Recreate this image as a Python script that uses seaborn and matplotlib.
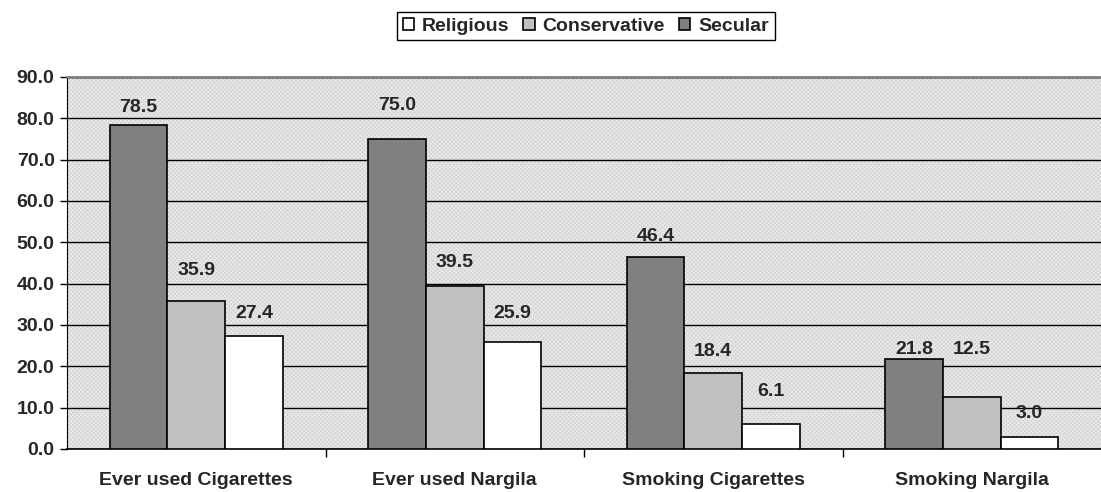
import pandas as pd
import matplotlib.pyplot as plt
import seaborn as sns
from matplotlib.patches import Rectangle

# Data
categories = ["Ever used Cigarettes", "Ever used Nargila", "Smoking Cigarettes", "Smoking Nargila"]
secular = [78.5, 75.0, 46.4, 21.8]
conservative = [35.9, 39.5, 18.4, 12.5]
religious = [27.4, 25.9, 6.1, 3.0]

# label heights (data units), placed by hand in the original
secular_lab = [82.7, 83.2, 51.5, 24.0]
conservative_lab = [43.3, 45.0, 23.5, 24.0]
religious_lab = [32.9, 32.9, 13.8, 8.5]

groups = ["Secular", "Conservative", "Religious"]
colors = {"Secular": "#808080", "Conservative": "#c0c0c0", "Religious": "#ffffff"}

rows = []
for g, vals in zip(groups, [secular, conservative, religious]):
    for c, v in zip(categories, vals):
        rows.append({"cat": c, "group": g, "value": v})
df = pd.DataFrame(rows)

sns.set_style("white")
plt.rcParams['font.family'] = ['Liberation Sans', 'DejaVu Sans']
plt.rcParams['font.weight'] = 'bold'
plt.rcParams['hatch.linewidth'] = 0.8

fig = plt.figure(figsize=(11.01, 4.92), dpi=100)
ax = fig.add_axes([0.0609, 0.0874, 0.9391, 0.7561])

# hatched grey plot background
ax.add_patch(Rectangle((0, 0), 1, 1, transform=ax.transAxes, facecolor="#cfcfcf",
                       edgecolor="#e8e8e8", hatch="xxxxxxxx", linewidth=0, zorder=0))

sns.barplot(data=df, x="cat", y="value", hue="group", hue_order=groups,
            palette=colors, width=0.67, edgecolor="black", linewidth=1.2,
            saturation=1, ax=ax, zorder=3)

ax.set_ylim(0, 90)
ax.set_xlim(-0.5, 3.5)
ax.set_yticks(range(0, 91, 10))
ax.set_yticklabels([f"{t:.1f}" for t in range(0, 91, 10)], fontsize=14, fontweight='bold')
ax.yaxis.grid(True, color="black", linewidth=1, zorder=1)
ax.set_axisbelow(True)
ax.tick_params(axis='y', left=True, length=5, width=1, color='black', pad=4)

# group separators on x axis
ax.set_xticks([0.5, 1.5, 2.5], minor=True)
ax.tick_params(axis='x', which='minor', bottom=True, length=6, width=1, color='black')
ax.tick_params(axis='x', which='major', bottom=False, pad=13)
ax.set_xticks(range(4))
ax.set_xticklabels(categories, fontsize=14, fontweight='bold')
ax.set_xlabel("")
ax.set_ylabel("")

ax.spines['left'].set_color('black')
ax.spines['bottom'].set_color('black')
ax.spines['bottom'].set_linewidth(1.2)
ax.spines['top'].set_color('#808080')
ax.spines['top'].set_linewidth(2)
ax.spines['right'].set_visible(False)

# value labels
offsets = [-0.2233, 0, 0.2233]
for off, vals, labs in zip(offsets, [secular, conservative, religious],
                           [secular_lab, conservative_lab, religious_lab]):
    for i, (v, ly) in enumerate(zip(vals, labs)):
        ax.text(i + off, ly, f"{v:.1f}", ha='center', va='center',
                fontsize=14, fontweight='bold', zorder=5)

# legend: Religious, Conservative, Secular
handles, labels = ax.get_legend_handles_labels()
order = [labels.index(n) for n in ["Religious", "Conservative", "Secular"]]
ax.legend([handles[k] for k in order], [labels[k] for k in order],
          loc='center', bbox_to_anchor=(0.532, 0.947), bbox_transform=fig.transFigure,
          ncol=3, frameon=True, fancybox=False, edgecolor='black', framealpha=1,
          prop={'size': 14, 'weight': 'bold'}, handlelength=0.6, handleheight=0.6,
          handletextpad=0.4, columnspacing=0.7, borderpad=0.3)

fig.savefig("out.png", dpi=100)
